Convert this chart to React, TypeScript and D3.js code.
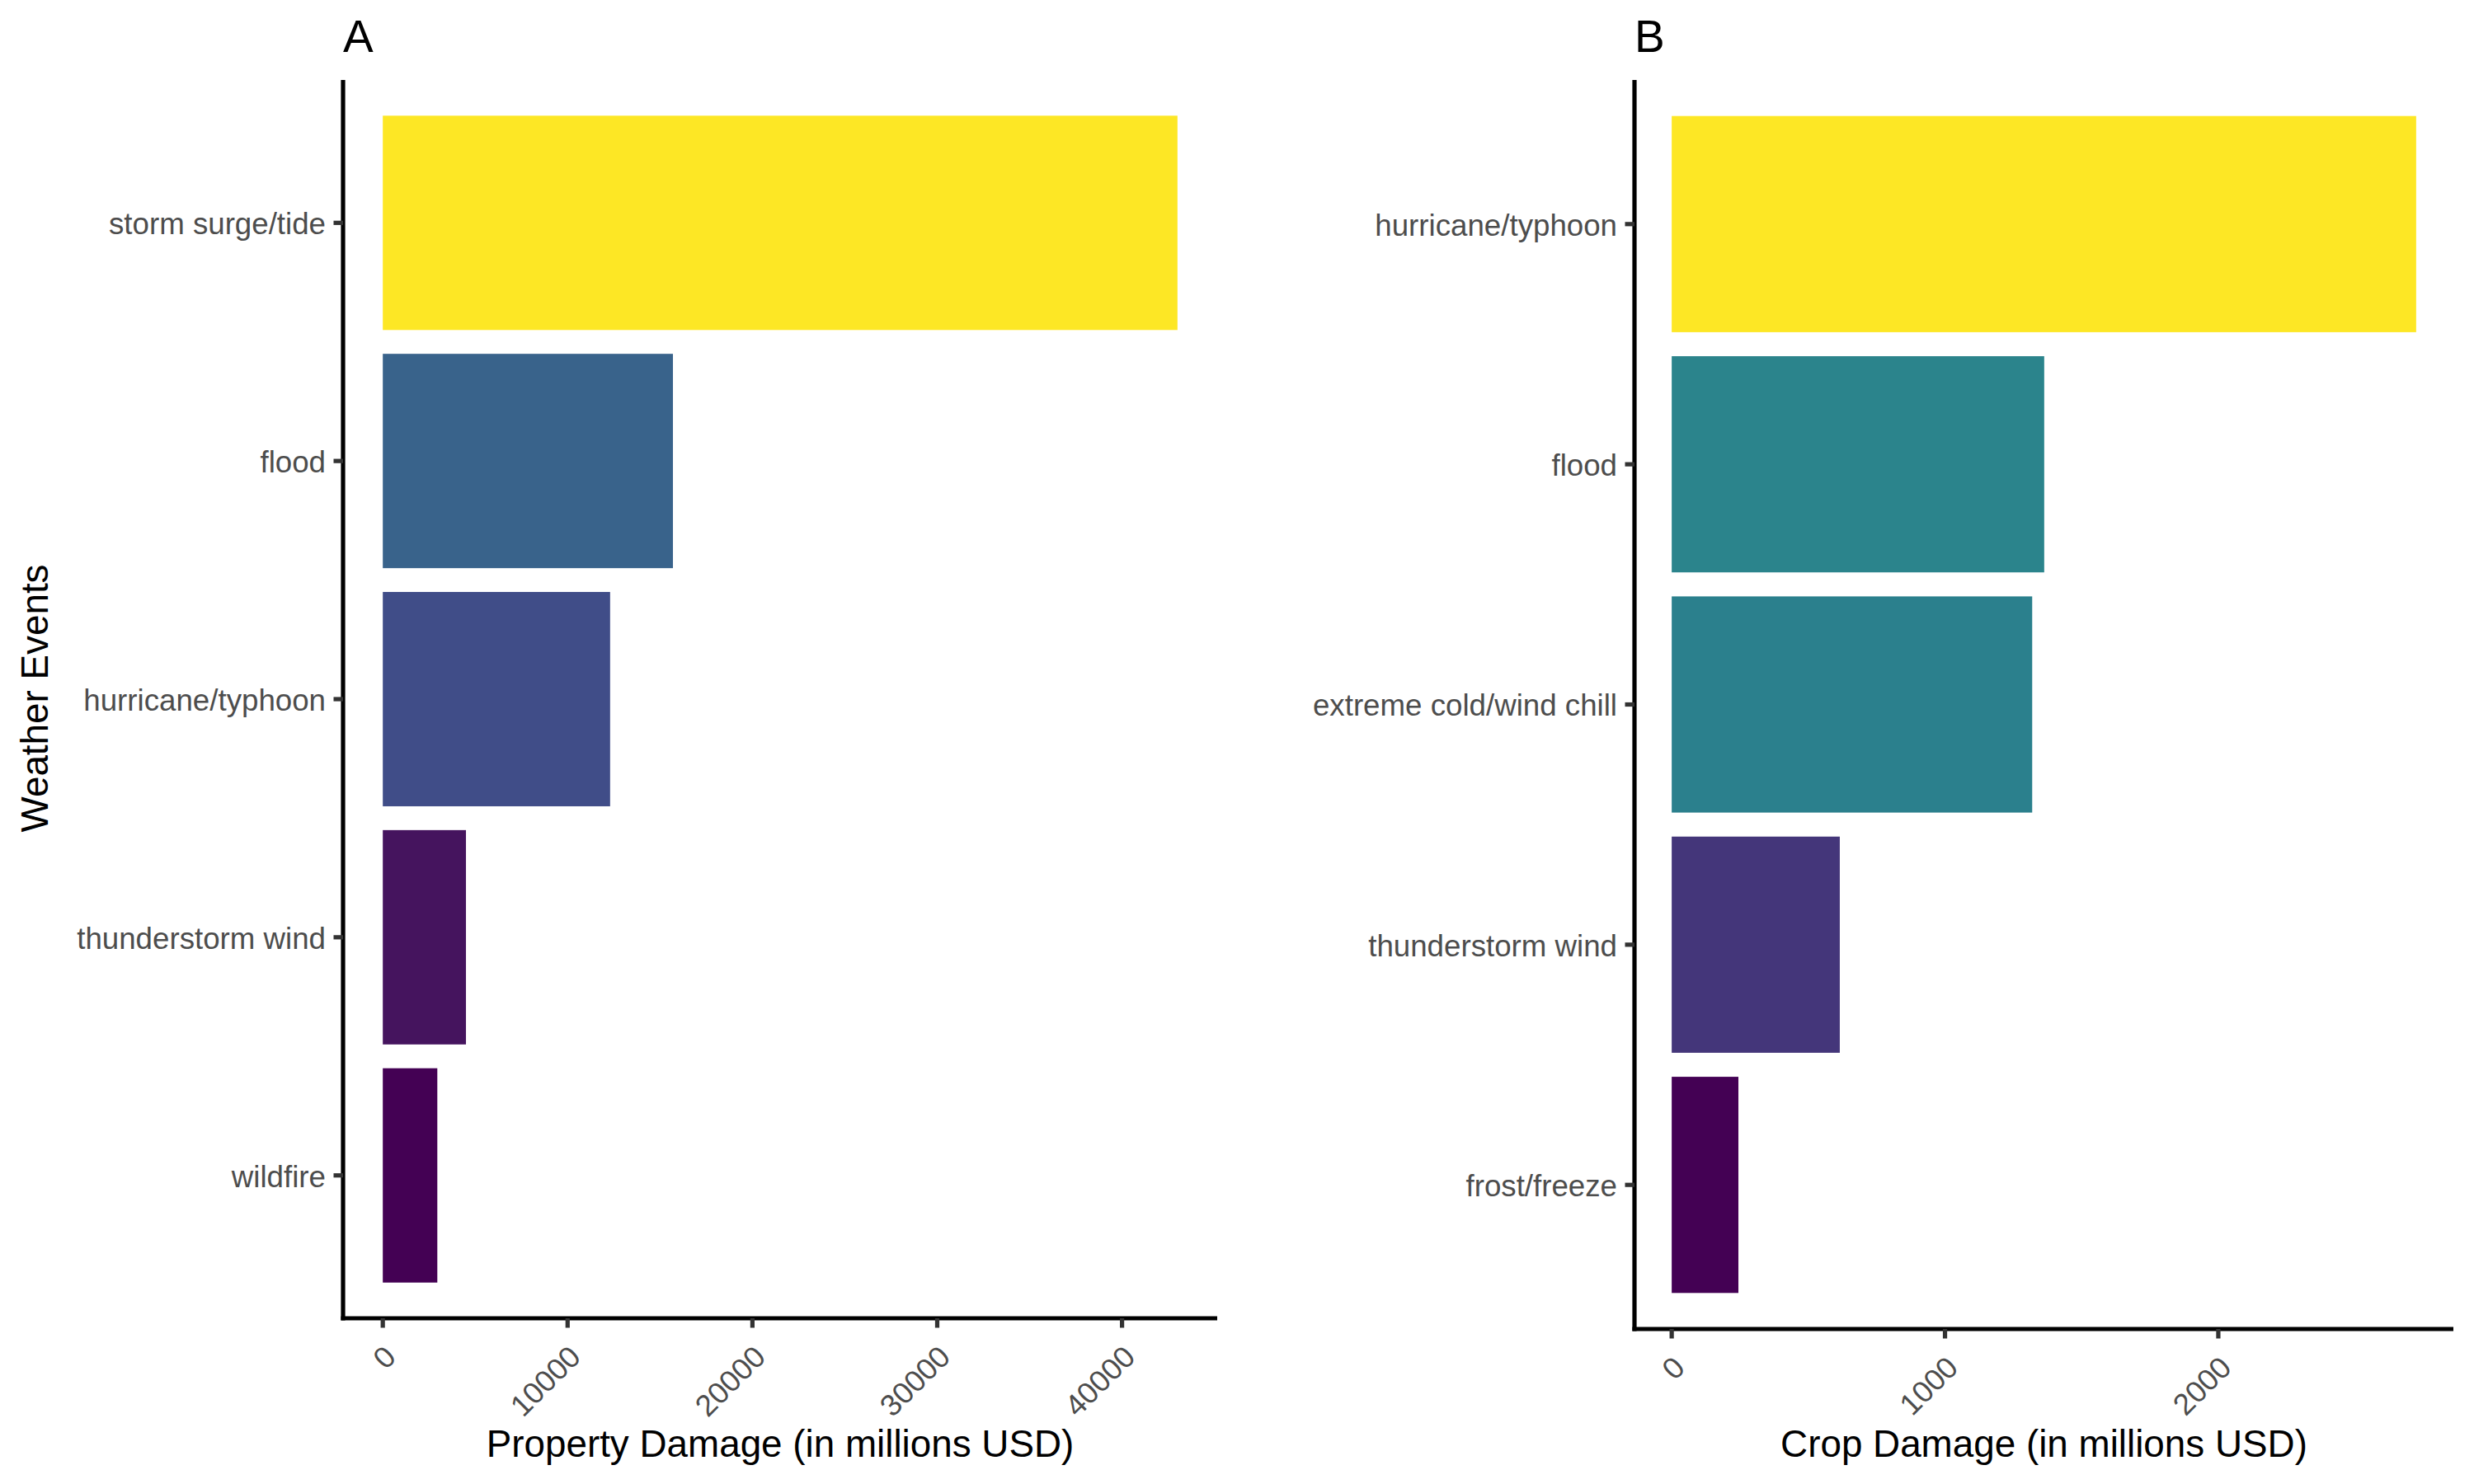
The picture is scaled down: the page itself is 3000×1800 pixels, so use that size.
import React from "react";
import * as d3 from "d3";

const propCategories = ["storm surge/tide", "flood", "hurricane/typhoon", "thunderstorm wind", "wildfire"];
const propValues = [43000, 15700, 12300, 4500, 2950];
const propTicks = [0, 10000, 20000, 30000, 40000];

const cropCategories = ["hurricane/typhoon", "flood", "extreme cold/wind chill", "thunderstorm wind", "frost/freeze"];
const cropValues = [2724, 1363, 1319, 615, 244];
const cropTicks = [0, 1000, 2000];

const viridis6 = ["#440154", "#414487", "#2A788E", "#22A884", "#7AD151", "#FDE725"];

const FONT = "'Liberation Sans', Arial, Helvetica, sans-serif";

type PanelProps = {
  tag: string;
  cats: string[];
  vals: number[];
  ticks: number[];
  xTitle: string;
  left: number;
  right: number;
  top: number;
  bottom: number;
};

function Panel({ tag, cats, vals, ticks, xTitle, left, right, top, bottom }: PanelProps) {
  const max = d3.max(vals) as number;
  const min = d3.min(vals) as number;
  const x = d3.scaleLinear().domain([-0.05 * max, 1.05 * max]).range([left, right]);
  const y = d3.scaleBand<string>().domain(cats).range([top, bottom]).paddingInner(0.1).paddingOuter(0.15);
  const color = d3
    .scaleLinear<string>()
    .domain(d3.range(6).map((i) => min + (i * (max - min)) / 5))
    .range(viridis6)
    .interpolate(d3.interpolateLab);
  const tickLen = 11.5;
  const lw = 5.2;
  return (
    <g>
      <text x={left} y={63} fontFamily={FONT} fontSize={55} fill="#000">
        {tag}
      </text>
      {cats.map((c, i) => (
        <rect
          key={c}
          x={x(0)}
          y={y(c)}
          width={x(vals[i]) - x(0)}
          height={y.bandwidth()}
          fill={color(vals[i])}
        />
      ))}
      {/* y axis */}
      <line x1={left} x2={left} y1={top} y2={bottom + lw / 2} stroke="#000" strokeWidth={lw} />
      {cats.map((c) => {
        const cy = (y(c) as number) + y.bandwidth() / 2;
        return (
          <g key={"yt" + c}>
            <line x1={left - tickLen} x2={left} y1={cy} y2={cy} stroke="#333333" strokeWidth={lw} />
            <text
              x={left - 21}
              y={cy}
              dy="0.38em"
              textAnchor="end"
              fontFamily={FONT}
              fontSize={36.7}
              fill="#4D4D4D"
            >
              {c}
            </text>
          </g>
        );
      })}
      {/* x axis */}
      <line x1={left - lw / 2} x2={right} y1={bottom} y2={bottom} stroke="#000" strokeWidth={lw} />
      {ticks.map((t) => {
        const tx = x(t);
        return (
          <g key={"xt" + t}>
            <line x1={tx} x2={tx} y1={bottom} y2={bottom + tickLen} stroke="#333333" strokeWidth={lw} />
            <text
              transform={`translate(${tx + 18},${bottom + 49}) rotate(-45)`}
              textAnchor="end"
              fontFamily={FONT}
              fontSize={36.7}
              fill="#4D4D4D"
            >
              {String(t)}
            </text>
          </g>
        );
      })}
      <text
        x={(left + right) / 2}
        y={1767}
        textAnchor="middle"
        fontFamily={FONT}
        fontSize={45.8}
        fill="#000"
      >
        {xTitle}
      </text>
    </g>
  );
}

export default function App() {
  return (
    <svg
      width={3000}
      height={1800}
      viewBox="0 0 3000 1800"
      style={{ position: "absolute", left: 0, top: 0, background: "#fff" }}
    >
      <rect x={0} y={0} width={3000} height={1800} fill="#fff" />
      <text
        transform="translate(58,847) rotate(-90)"
        textAnchor="middle"
        fontFamily={FONT}
        fontSize={45.8}
        fill="#000"
      >
        Weather Events
      </text>
      <Panel
        tag="A"
        cats={propCategories}
        vals={propValues}
        ticks={propTicks}
        xTitle="Property Damage (in millions USD)"
        left={416}
        right={1476}
        top={97}
        bottom={1599}
      />
      <Panel
        tag="B"
        cats={cropCategories}
        vals={cropValues}
        ticks={cropTicks}
        xTitle="Crop Damage (in millions USD)"
        left={1982}
        right={2975}
        top={97}
        bottom={1612}
      />
    </svg>
  );
}
